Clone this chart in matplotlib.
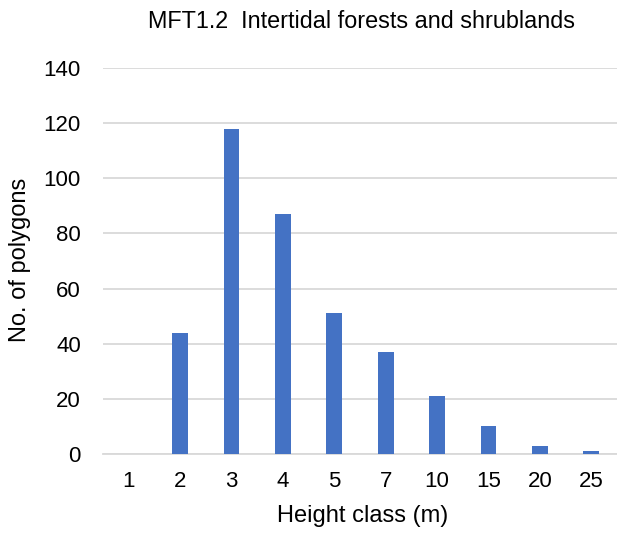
import matplotlib
matplotlib.use("Agg")
import matplotlib.pyplot as plt
import numpy as np

plt.rcParams['font.family'] = ['Liberation Sans', 'DejaVu Sans']

categories = ["1", "2", "3", "4", "5", "7", "10", "15", "20", "25"]
counts = [0, 44, 118, 87, 51, 37, 21, 10, 3, 1]
title = "MFT1.2  Intertidal forests and shrublands"
xlabel = "Height class (m)"
ylabel = "No. of polygons"

W, H = 617, 537
fig = plt.figure(figsize=(W / 100, H / 100), dpi=100)
ax = fig.add_axes([0.167, 0.1546, 0.833, 0.7186])

x = np.arange(len(categories))
ax.bar(x, counts, width=0.31, color="#4472C4", zorder=3)
ax.set_xlim(-0.5, len(categories) - 0.5)
ax.set_ylim(0, 140)
ax.set_yticks(np.arange(0, 141, 20))
ax.set_xticks(x)
ax.set_xticklabels(categories)
ax.yaxis.grid(True, color="#D9D9D9", linewidth=1.3, zorder=0)
for s in ["top", "right", "left"]:
    ax.spines[s].set_visible(False)
ax.spines["bottom"].set_color("#D9D9D9")
ax.spines["bottom"].set_linewidth(1.3)
ax.tick_params(axis="both", length=0, labelsize=16, colors="#000000")
ax.tick_params(axis="x", pad=12)
ax.tick_params(axis="y", pad=16)

fig.text(363 / W, 1 - 516 / H, xlabel, ha="center", va="center", fontsize=17)
fig.text(20 / W, 1 - 260 / H, ylabel, ha="center", va="center", rotation=90, fontsize=17)
fig.text(361 / W, 1 - 21 / H, title, ha="center", va="center", fontsize=16.8)

fig.savefig("out.png", dpi=100)
